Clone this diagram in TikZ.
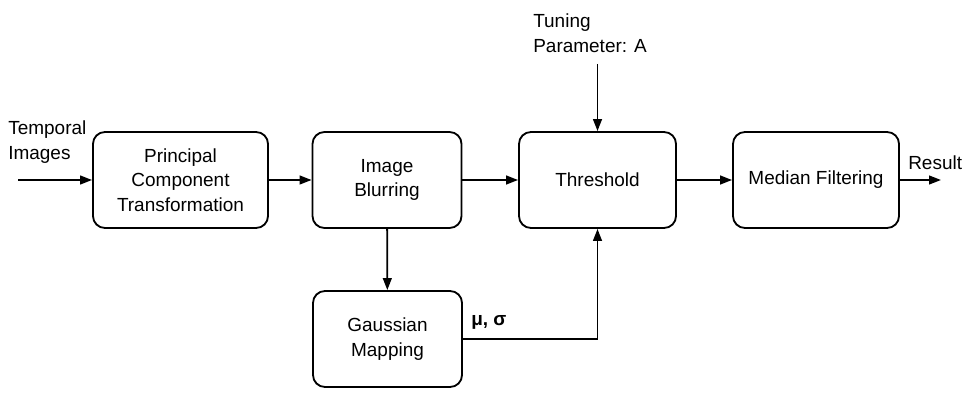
\documentclass[tikz,border=0pt]{standalone}
\usepackage{fontspec}
\setmainfont{Liberation Sans}
\usetikzlibrary{arrows.meta,positioning}
\tikzset{
	block/.style={draw, line width=1.3pt, rounded corners=0.3cm, minimum height=2.4cm, align=center, font=\fontsize{13.5}{17.5}\selectfont},
	arr/.style={line width=1.3pt, -{Triangle[length=0.3cm,width=0.22cm]}},
	lbl/.style={align=left, font=\fontsize{13.5}{17.5}\selectfont, inner sep=0pt}
}
\begin{document}
\begin{tikzpicture}[x=0.025cm,y=-0.025cm]
	\useasboundingbox (0,0) rectangle (967,400);
	% blocks
	\node[block, minimum width=4.375cm] (pct) at (180.5,180) {Principal\\Component\\Transformation};
	\node[block, minimum width=3.725cm] (blur) at (387,180) {Image\\Blurring};
	\node[block, minimum width=3.925cm] (thr) at (597.5,180) {Threshold};
	\node[block, minimum width=4.15cm] (med) at (816,180) {Median Filtering};
	\node[block, minimum width=3.725cm] (gauss) at (387.5,339) {Gaussian\\Mapping};
	% inputs and outputs
	\coordinate (in) at (18,180);
	\coordinate (out) at (941,180);
	\coordinate (tun) at (597.5,64);
	\node[lbl, anchor=west] (temp) at (8,142) {Temporal\\Images};
	\node[lbl, anchor=west] (res) at (908,163) {Result};
	\node[lbl, anchor=west] (tunlbl) at (533,33) {Tuning\\Parameter: A};
	\node[lbl, anchor=west, font=\fontsize{13.5}{17.5}\selectfont\bfseries] (musig) at (471,322) {μ, σ};
	% connectors
	\draw[arr] (in) -- (pct);
	\draw[arr] (pct) -- (blur);
	\draw[arr] (blur) -- (thr);
	\draw[arr] (thr) -- (med);
	\draw[arr] (med) -- (out);
	\draw[arr] (tun) -- (thr);
	\draw[arr] (blur) -- (gauss);
	\draw[arr] (gauss.east) -| (thr.south);
\end{tikzpicture}
\end{document}
